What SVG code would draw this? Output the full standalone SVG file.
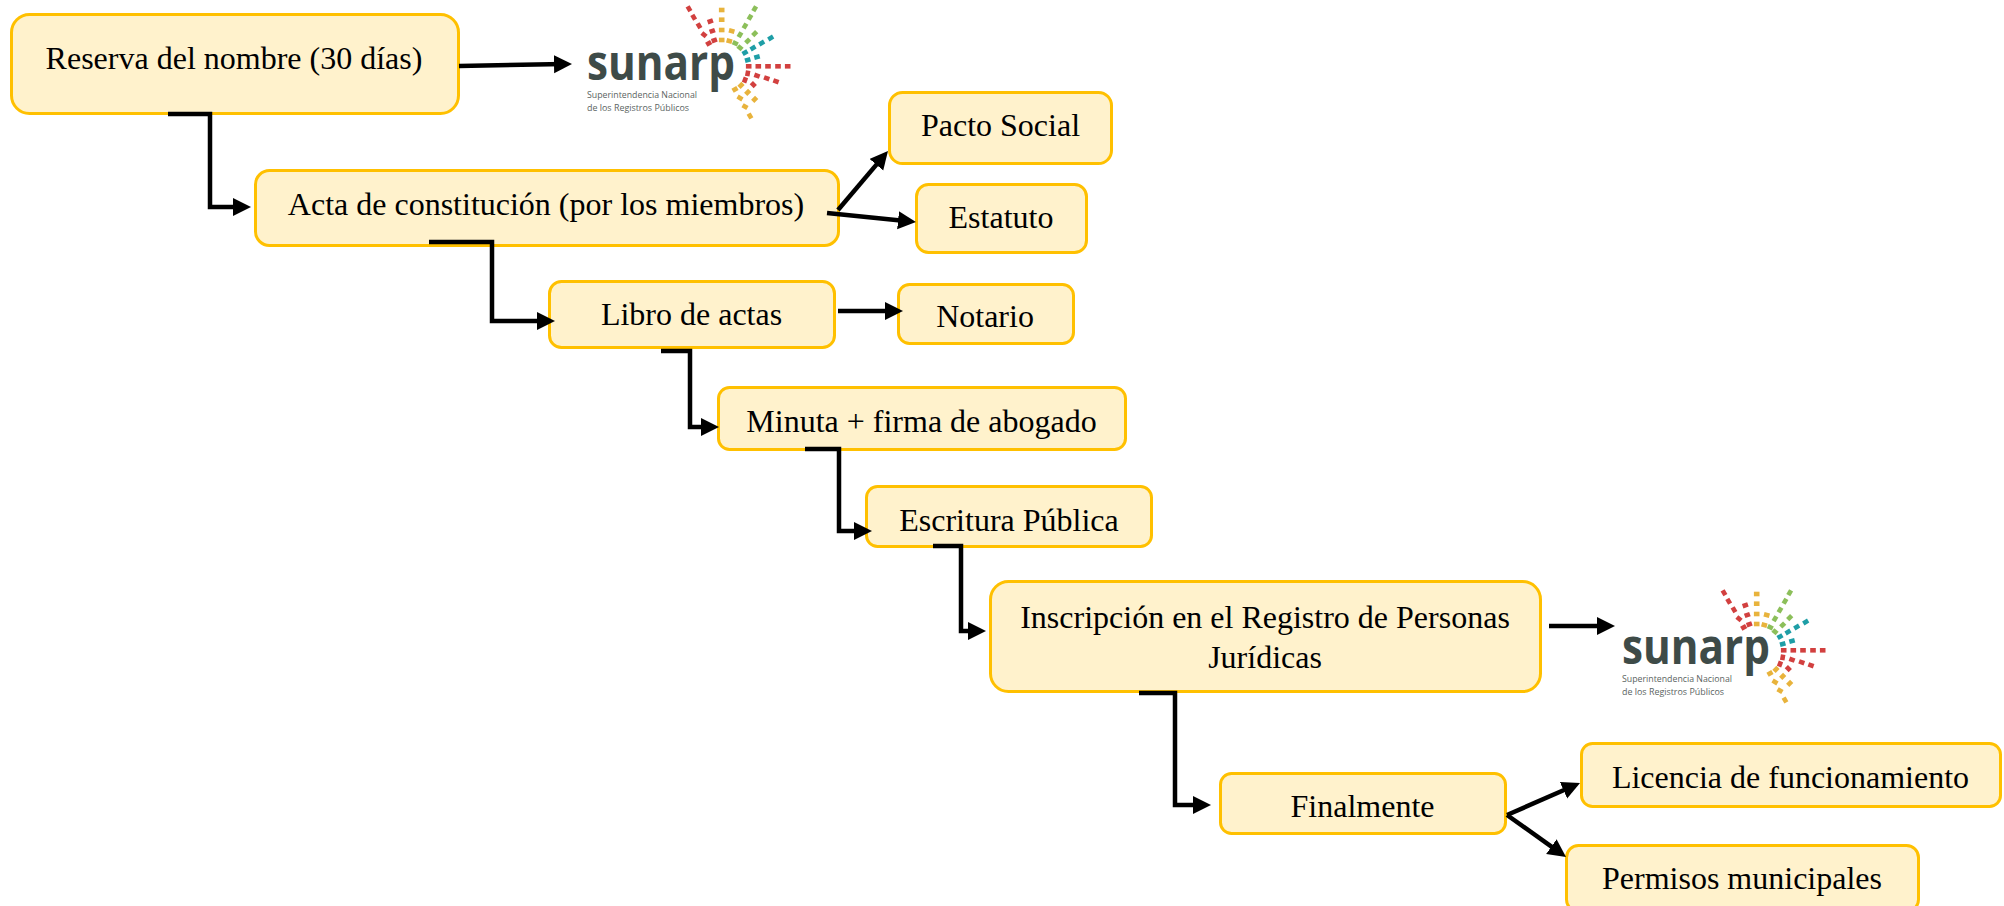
<svg xmlns="http://www.w3.org/2000/svg" width="2004" height="906" viewBox="0 0 2004 906">
<style>
.box{fill:#FFF2CC;stroke:#FFC000;stroke-width:3}
.t{font-family:"Liberation Serif","Times New Roman",serif;font-size:32px;fill:#000;text-anchor:middle}
.c{fill:none;stroke:#000;stroke-width:4.500;marker-end:url(#ah)}
.lg{font-family:"Open Sans","Noto Sans",sans-serif;font-weight:700;font-size:48px;fill:#3E4B48}
.ls{font-family:"Open Sans","Noto Sans",sans-serif;font-size:9.6px;fill:#5B6462}
</style>
<defs>
<marker id="ah" markerUnits="userSpaceOnUse" markerWidth="20" markerHeight="20" refX="10" refY="9" orient="auto"><path d="M0 0L18 9L0 18Z" fill="#000"/></marker>
<rect id="sq" x="-2.800" y="-2.300" width="5.600" height="4.600"/>
<g id="logo">
<text class="lg" x="587" y="80" textLength="148" lengthAdjust="spacingAndGlyphs">sunarp</text>
<text class="ls" x="587" y="98" textLength="110" lengthAdjust="spacingAndGlyphs">Superintendencia Nacional</text>
<text class="ls" x="587" y="110.500" textLength="102" lengthAdjust="spacingAndGlyphs">de los Registros Públicos</text>
<g fill="#D2403F">
<use href="#sq" transform="translate(689 8.700) rotate(60)"/><use href="#sq" transform="translate(693.700 17.300) rotate(60)"/><use href="#sq" transform="translate(699 25.700) rotate(60)"/><use href="#sq" transform="translate(704 34.700) rotate(40)"/><use href="#sq" transform="translate(708.700 43.300) rotate(-30)"/><use href="#sq" transform="translate(710.300 21.300) rotate(-20)"/><use href="#sq" transform="translate(712.300 31) rotate(-20)"/><use href="#sq" transform="translate(714.300 40.300) rotate(-20)"/>
<use href="#sq" transform="translate(787.700 66.300)"/><use href="#sq" transform="translate(778 66.300)"/><use href="#sq" transform="translate(768 66.300)"/><use href="#sq" transform="translate(758.300 66.300)"/><use href="#sq" transform="translate(748.700 66.300)"/><use href="#sq" transform="translate(776 81.300) rotate(20)"/><use href="#sq" transform="translate(766.700 78.300) rotate(20)"/><use href="#sq" transform="translate(757 75.700) rotate(20)"/><use href="#sq" transform="translate(747.700 73.300) rotate(100)"/><use href="#sq" transform="translate(753.300 84.700) rotate(45)"/><use href="#sq" transform="translate(745 80) rotate(110)"/>
</g>
<g fill="#E8B33C">
<use href="#sq" transform="translate(721.700 10)"/><use href="#sq" transform="translate(721.700 19.700)"/><use href="#sq" transform="translate(721.700 30)"/><use href="#sq" transform="translate(721.700 40)"/><use href="#sq" transform="translate(731.700 31) rotate(15)"/><use href="#sq" transform="translate(729.300 41) rotate(15)"/>
<use href="#sq" transform="translate(750 116) rotate(60)"/><use href="#sq" transform="translate(745 106.700) rotate(30)"/><use href="#sq" transform="translate(740 98) rotate(30)"/><use href="#sq" transform="translate(735 89.300) rotate(-30)"/><use href="#sq" transform="translate(741 85.300) rotate(-45)"/><use href="#sq" transform="translate(747.700 92.300) rotate(-45)"/><use href="#sq" transform="translate(754.700 99.300) rotate(-45)"/>
</g>
<g fill="#8CBF5A">
<use href="#sq" transform="translate(754.700 8.700) rotate(-60)"/><use href="#sq" transform="translate(750 17.300) rotate(-60)"/><use href="#sq" transform="translate(745 26) rotate(-60)"/><use href="#sq" transform="translate(740 34.700) rotate(-60)"/><use href="#sq" transform="translate(735.300 43.300) rotate(25)"/><use href="#sq" transform="translate(754.700 33.700) rotate(-45)"/><use href="#sq" transform="translate(747.700 41) rotate(-45)"/><use href="#sq" transform="translate(740 47.700) rotate(40)"/>
</g>
<g fill="#1E9EA6">
<use href="#sq" transform="translate(770.700 38) rotate(-30)"/><use href="#sq" transform="translate(761.700 43) rotate(-30)"/><use href="#sq" transform="translate(753 48) rotate(-30)"/><use href="#sq" transform="translate(745 52.700) rotate(-30)"/><use href="#sq" transform="translate(747.700 60) rotate(-15)"/><use href="#sq" transform="translate(757 57) rotate(-15)"/>
</g>
</g>
</defs>
<rect width="2004" height="906" fill="#fff"/>
<g id="node-reserva"><rect class="box" x="11.500" y="14.500" width="447" height="99" rx="18"/><text class="t" x="234" y="69">Reserva del nombre (30 días)</text></g>
<g id="logo-1"><use href="#logo"/></g>
<g id="node-acta"><rect class="box" x="255.500" y="170.500" width="583" height="75" rx="14"/><text class="t" x="546" y="215">Acta de constitución (por los miembros)</text></g>
<g id="node-pacto"><rect class="box" x="889.500" y="92.500" width="222" height="71" rx="13"/><text class="t" x="1000.500" y="136">Pacto Social</text></g>
<g id="node-estatuto"><rect class="box" x="916.500" y="184.500" width="170" height="68" rx="12"/><text class="t" x="1001" y="228">Estatuto</text></g>
<g id="node-libro"><rect class="box" x="549.500" y="281.500" width="285" height="66" rx="12"/><text class="t" x="691.500" y="325">Libro de actas</text></g>
<g id="node-notario"><rect class="box" x="898.500" y="284.500" width="175" height="59" rx="11"/><text class="t" x="985" y="327">Notario</text></g>
<g id="node-minuta"><rect class="box" x="718.500" y="387.500" width="407" height="62" rx="11"/><text class="t" x="921.500" y="432">Minuta + firma de abogado</text></g>
<g id="node-escritura"><rect class="box" x="866.500" y="486.500" width="285" height="60" rx="11"/><text class="t" x="1009" y="531">Escritura Pública</text></g>
<g id="node-inscripcion"><rect class="box" x="990.500" y="581.500" width="550" height="110" rx="18"/><text class="t" x="1265" y="628">Inscripción en el Registro de Personas</text><text class="t" x="1265" y="668">Jurídicas</text></g>
<g id="logo-2"><use href="#logo" transform="translate(1035 584)"/></g>
<g id="node-finalmente"><rect class="box" x="1220.500" y="773.500" width="285" height="60" rx="11"/><text class="t" x="1362.500" y="817">Finalmente</text></g>
<g id="node-licencia"><rect class="box" x="1581.500" y="743.500" width="419" height="63" rx="11"/><text class="t" x="1790.500" y="788">Licencia de funcionamiento</text></g>
<g id="node-permisos"><rect class="box" x="1566.500" y="845.500" width="352" height="66" rx="12"/><text class="t" x="1742" y="889">Permisos municipales</text></g>
<g id="connectors">
<path class="c" d="M459 66L564 64.100"/>
<path class="c" d="M168 114H210V207H243"/>
<path class="c" d="M838 210L882.800 157.100"/>
<path class="c" d="M827 213L908 221.200"/>
<path class="c" d="M429 242H492V321H547"/>
<path class="c" d="M838 311H895"/>
<path class="c" d="M661 351H690V427H711"/>
<path class="c" d="M805 449H839V531H864"/>
<path class="c" d="M933 546H961V631H978"/>
<path class="c" d="M1549 626H1607"/>
<path class="c" d="M1139 693H1175V805H1203"/>
<path class="c" d="M1507 815L1572.700 786.200"/>
<path class="c" d="M1507 815L1559.500 852.400"/>
</g>
</svg>
